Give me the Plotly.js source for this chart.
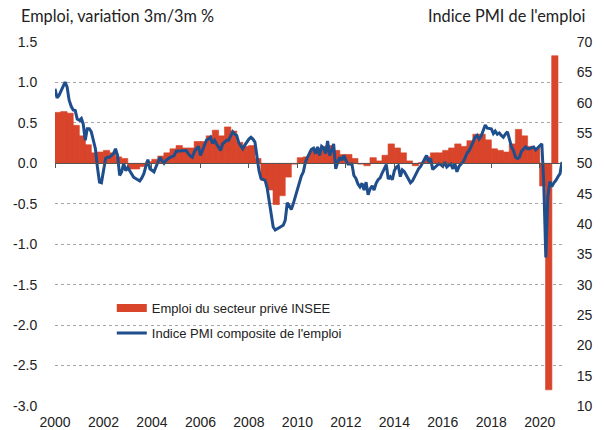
<!DOCTYPE html>
<html>
<head>
<meta charset="utf-8">
<script src="https://cdn.plot.ly/plotly-3.0.1.min.js"></script>
<style>
  html, body { margin: 0; padding: 0; background: #ffffff; }
  #chart { width: 605px; height: 430px; }
</style>
</head>
<body>
<div id="chart"></div>
<script>
// ---------- DATA ----------
// INSEE private-sector employment, quarterly, 3m/3m % change, from 2000 Q1
const employmentStartYear = 2000;
const employmentChange = [
  0.63, 0.64, 0.62, 0.47,   // 2000
  0.34, 0.23, 0.13, 0.14,   // 2001
  0.16, 0.13, 0.08, 0.06,   // 2002
  -0.07, -0.07, -0.04, 0.02,// 2003
  0.05, 0.09, 0.13, 0.18,   // 2004
  0.22, 0.19, 0.19, 0.27,   // 2005
  0.27, 0.34, 0.41, 0.34,   // 2006
  0.45, 0.40, 0.26, 0.21,   // 2007
  0.22, 0.06, -0.21, -0.33, // 2008
  -0.51, -0.40, -0.17, -0.01, // 2009
  0.07, 0.08, 0.16, 0.18,   // 2010
  0.21, 0.22, 0.16, 0.11,   // 2011
  0.11, 0.06, -0.01, -0.03, // 2012
  0.07, 0.03, 0.10, 0.24,   // 2013
  0.19, 0.13, 0.03, -0.03,  // 2014
  0.01, 0.08, 0.13, 0.13,   // 2015
  0.16, 0.19, 0.24, 0.21,   // 2016
  0.28, 0.36, 0.36, 0.29,   // 2017
  0.18, 0.16, 0.14, 0.24,   // 2018
  0.42, 0.34, 0.21, 0.19,   // 2019
  -0.28, -2.80, 1.33        // 2020
];

// Composite PMI employment index, monthly, from January 2000
const pmiStartYear = 2000;
const pmiEmployment = [
  62.3, 60.8, 61.2, 62.0, 62.9, 63.4, 62.6, 60.4, 59.4, 58.8, 58.7, 57.3, // 2000
  57.1, 57.4, 56.5, 53.8, 55.7, 55.7, 55.2, 53.8, 52.4, 49.4, 46.9, 46.8, // 2001
  48.8, 50.8, 51.0, 51.0, 51.3, 51.6, 52.4, 51.3, 48.0, 48.6, 50.0, 48.8, // 2002
  49.3, 48.8, 48.2, 47.7, 47.5, 47.3, 47.1, 47.6, 48.3, 49.5, 50.6, 49.1, // 2003
  48.8, 48.6, 49.4, 50.2, 51.0, 50.4, 50.0, 50.5, 50.8, 51.0, 51.1, 51.3, // 2004
  52.0, 52.0, 52.1, 52.0, 52.0, 52.1, 51.6, 51.2, 51.0, 51.9, 52.4, 52.8, // 2005
  51.3, 52.1, 53.0, 53.8, 54.0, 54.3, 53.3, 53.8, 53.2, 52.6, 52.1, 53.2, // 2006
  53.5, 53.8, 53.8, 54.5, 55.2, 54.8, 54.6, 53.4, 52.8, 52.4, 53.0, 53.5, // 2007
  54.0, 54.3, 54.0, 53.5, 51.0, 48.8, 47.5, 47.4, 47.2, 46.0, 43.5, 41.2, // 2008
  39.5, 39.0, 39.2, 39.3, 39.5, 39.8, 40.6, 43.5, 43.0, 42.4, 43.4, 44.6, // 2009
  46.0, 47.2, 47.9, 48.6, 50.2, 51.0, 51.6, 52.3, 52.5, 51.6, 52.7, 51.3, // 2010
  52.8, 52.5, 51.6, 53.7, 51.3, 52.1, 53.2, 49.1, 50.2, 51.0, 50.5, 51.3, // 2011
  50.5, 49.9, 49.9, 49.9, 48.0, 47.5, 46.6, 46.1, 46.7, 45.6, 46.9, 44.8, // 2012
  45.8, 46.3, 45.6, 46.7, 47.3, 47.6, 48.4, 49.2, 49.8, 47.4, 47.8, 47.3, // 2013
  48.8, 49.4, 49.6, 47.8, 48.9, 48.6, 48.0, 47.2, 46.8, 47.1, 47.8, 48.6, // 2014
  49.1, 49.5, 50.0, 50.6, 51.3, 50.2, 50.8, 49.0, 49.3, 49.7, 49.9, 49.8, // 2015
  49.5, 50.2, 49.4, 49.7, 49.9, 49.1, 49.9, 48.6, 49.5, 49.9, 50.2, 50.9, // 2016
  51.7, 52.1, 52.7, 53.5, 54.3, 54.6, 54.0, 54.5, 55.4, 56.3, 55.8, 55.7, // 2017
  55.7, 54.9, 55.3, 54.8, 55.0, 54.6, 54.3, 54.8, 55.2, 54.0, 52.7, 52.1, // 2018
  51.0, 50.8, 51.0, 52.0, 52.4, 52.7, 52.4, 52.4, 52.6, 52.7, 52.2, 52.6, // 2019
  52.9, 53.2, 46.8, 34.5, 44.5, 47.0, 46.2, 46.8, 47.2, 47.8, 48.3, 50.2  // 2020
];

const xTickYears = ['2000','2002','2004','2006','2008','2010','2012','2014','2016','2018','2020'];
const leftTicks = [-3.0, -2.5, -2.0, -1.5, -1.0, -0.5, 0.0, 0.5, 1.0, 1.5];
const rightTicks = [10, 15, 20, 25, 30, 35, 40, 45, 50, 55, 60, 65, 70];

const seriesNames = ['Emploi du secteur privé INSEE', 'Indice PMI composite de l\'emploi'];
const leftTitle = 'Emploi, variation 3m/3m %';
const rightTitle = 'Indice PMI de l\'emploi';

// ---------- helpers ----------
const pad2 = n => String(n).padStart(2, '0');
const quarterMid = i => (employmentStartYear + Math.floor(i / 4)) + '-' + pad2(3 * (i % 4) + 2) + '-15';
const monthStart = j => (pmiStartYear + Math.floor(j / 12)) + '-' + pad2(j % 12 + 1) + '-01';

const barX = employmentChange.map((_, i) => quarterMid(i));
const pmiX = pmiEmployment.map((_, j) => monthStart(j));
const quarterMs = 96 * 86400000;

const RED = '#D8452B';
const BLUE = '#1F4E8C';
const ARIAL = "'Liberation Sans', Arial, sans-serif";
const tickFont = { family: ARIAL, size: 14, color: '#222' };
const titleFont = { family: 'Lato, sans-serif', size: 16.3, color: '#222' };
const xRange = ['2000-01-01', '2020-12-01'];

const traces = [
  {
    type: 'bar', x: barX, y: employmentChange, width: quarterMs,
    marker: { color: RED, line: { width: 0.6, color: RED } },
    xaxis: 'x', yaxis: 'y', showlegend: false, hoverinfo: 'x+y'
  },
  {
    type: 'scatter', mode: 'lines', x: [null], y: [null],
    line: { color: RED, width: 8 }, name: seriesNames[0],
    xaxis: 'x', yaxis: 'y', legendgroup: 'a', showlegend: true
  },
  {
    type: 'scatter', mode: 'lines', x: pmiX, y: pmiEmployment,
    line: { color: BLUE, width: 3 }, name: seriesNames[1],
    xaxis: 'x2', yaxis: 'y2', legendgroup: 'b', showlegend: true
  }
];

const layout = {
  width: 605, height: 430,
  margin: { l: 55, r: 43, t: 42, b: 24, pad: 0 },
  paper_bgcolor: '#ffffff', plot_bgcolor: '#ffffff',
  showlegend: true,
  legend: {
    x: 0.112, y: 0.31, xanchor: 'left', yanchor: 'top',
    bgcolor: 'rgba(0,0,0,0)', borderwidth: 0,
    font: { family: ARIAL, size: 13, color: '#222' },
    tracegroupgap: 5, traceorder: 'grouped'
  },
  xaxis: {
    type: 'date', range: xRange,
    tickvals: xTickYears.map(y => y + '-01-01'), ticktext: xTickYears,
    ticks: 'outside', ticklen: 3, tickcolor: 'rgba(0,0,0,0)',
    showgrid: false, zeroline: false, showline: false,
    tickfont: tickFont, fixedrange: true
  },
  xaxis2: {
    type: 'date', range: xRange, overlaying: 'x', anchor: 'free', position: 3 / 4.5,
    tickvals: xTickYears.map(y => y + '-01-01'),
    showticklabels: false, ticks: 'outside', ticklen: 4, tickwidth: 1, tickcolor: '#555',
    showgrid: false, zeroline: false, showline: true, linecolor: '#555', linewidth: 1
  },
  yaxis: {
    range: [-3.0, 1.5], tickvals: leftTicks, ticktext: leftTicks.map(v => v.toFixed(1)),
    showgrid: true, gridcolor: '#a6a6a6', griddash: 'dot', gridwidth: 1,
    zeroline: false, showline: false,
    ticks: 'outside', ticklen: 14, tickcolor: 'rgba(0,0,0,0)',
    tickfont: tickFont
  },
  yaxis2: {
    range: [10, 70], tickvals: rightTicks, overlaying: 'y', side: 'right', anchor: 'x2',
    showgrid: false, zeroline: false, showline: false,
    ticks: 'outside', ticklen: 11, tickcolor: 'rgba(0,0,0,0)',
    tickfont: tickFont
  },
  annotations: [
    { text: leftTitle, xref: 'paper', yref: 'paper', x: -0.071, y: 1.074,
      xanchor: 'left', yanchor: 'middle', showarrow: false, font: titleFont },
    { text: rightTitle, xref: 'paper', yref: 'paper', x: 1.049, y: 1.074,
      xanchor: 'right', yanchor: 'middle', showarrow: false, font: titleFont }
  ]
};

Plotly.newPlot('chart', traces, layout, { staticPlot: true, displayModeBar: false });
</script>
</body>
</html>
